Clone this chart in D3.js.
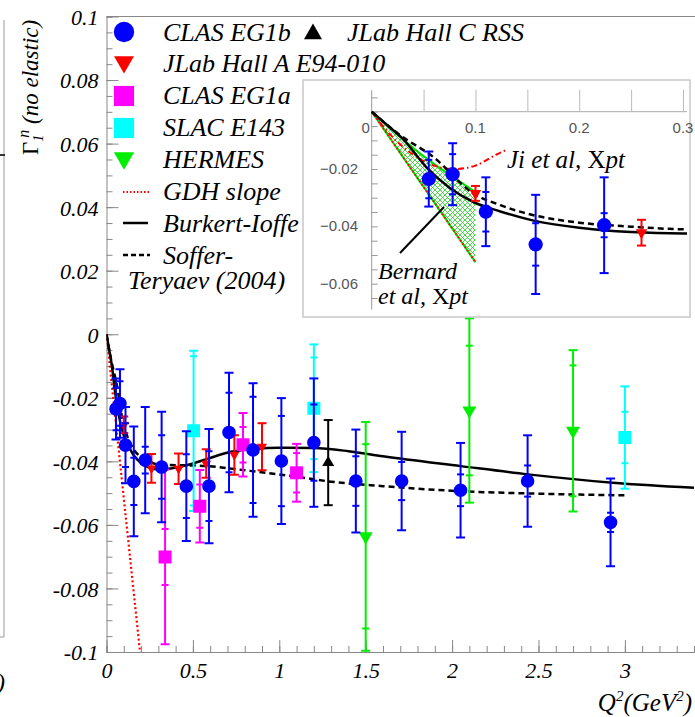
<!DOCTYPE html>
<html lang="en">
<head>
<meta charset="UTF-8">
<title>Gamma_1^n (no elastic) vs Q^2</title>
<script src="https://d3js.org/d3.v7.min.js"></script>
<style>
body { margin: 0; background: #fff; }
svg { display: block; background: #fff; }
text { font-family: "Liberation Serif", "Times New Roman", "DejaVu Serif", serif; }
.it { font-style: italic; }
.inset-lbl { font-family: "Liberation Sans", Arial, sans-serif; fill: #555; font-size: 15px; }
</style>
</head>
<body>
<svg width="695" height="717"></svg>
<script>
const svg = d3.select("svg");

// ---- data ----
// CLAS EG1b: Q2, Gamma1, total error, stat error
const eg1bQ2   = [0.055, 0.078, 0.110, 0.158, 0.224, 0.319, 0.462, 0.593, 0.709, 0.848, 1.012, 1.20, 1.443, 1.708, 2.049, 2.437, 2.917];
const eg1bG1   = [-0.0235, -0.0218, -0.0349, -0.0463, -0.0396, -0.0418, -0.0478, -0.0478, -0.0309, -0.0364, -0.0399, -0.0341, -0.0462, -0.0462, -0.0491, -0.0462, -0.0592];
const eg1bTot  = [0.0096, 0.0108, 0.0120, 0.0173, 0.0167, 0.0174, 0.0173, 0.0180, 0.0188, 0.0210, 0.0198, 0.0202, 0.0162, 0.0155, 0.0149, 0.0144, 0.0138];
const eg1bStat = [0.0067, 0.0070, 0.0069, 0.0074, 0.0042, 0.0100, 0.0100, 0.0110, 0.0125, 0.0167, 0.0142, 0.0120, 0.0078, 0.0060, 0.0050, 0.0049, 0.0030];

// JLab Hall A E94-010
const hallAQ2  = [0.100, 0.260, 0.417, 0.577, 0.740, 0.900];
const hallAG1  = [-0.0285, -0.0422, -0.0423, -0.0407, -0.0380, -0.0354];
const hallAErr = [0.0026, 0.0045, 0.0048, 0.0045, 0.0062, 0.0074];

// JLab Hall C RSS
const rssQ2  = [1.283];
const rssG1  = [-0.0404];
const rssErr = [0.0134];

// CLAS EG1a
const eg1aQ2   = [0.339, 0.540, 0.790, 1.100];
const eg1aG1   = [-0.0701, -0.0541, -0.0348, -0.0436];
const eg1aTot  = [0.0275, 0.0114, 0.0100, 0.0091];
const eg1aStat = [0.0088, 0.0068, 0.0056, 0.0062];

// SLAC E143
const e143Q2   = [0.504, 1.20, 3.00];
const e143G1   = [-0.0304, -0.0233, -0.0325];
const e143Tot  = [0.0252, 0.0201, 0.0161];
const e143Stat = [0.0235, 0.0160, 0.0081];

// HERMES
const hermesQ2   = [1.50, 2.10, 2.70];
const hermesG1   = [-0.0636, -0.0240, -0.0304];
const hermesTot  = [0.0360, 0.0290, 0.0254];
const hermesStat = [0.0290, 0.0204, 0.0206];

// model curves
const biQ2 = [0, 0.015, 0.03, 0.053, 0.075, 0.098, 0.124, 0.156, 0.2, 0.25, 0.3, 0.35, 0.465, 0.58, 0.72, 0.83, 1.0, 1.2, 1.4, 1.6, 2.05, 2.44, 2.93, 3.4];
const biG1 = [0, -0.0047, -0.0095, -0.0195, -0.0265, -0.0315, -0.0348, -0.038, -0.0405, -0.042, -0.0425, -0.0424, -0.0412, -0.0393, -0.037, -0.0362, -0.0357, -0.0358, -0.0368, -0.0384, -0.0415, -0.0441, -0.0467, -0.0483];
const stQ2 = [0, 0.027, 0.059, 0.098, 0.124, 0.156, 0.2, 0.25, 0.3, 0.58, 0.83, 1.07, 1.3, 1.6, 2.05, 2.44, 3.0];
const stG1 = [0, -0.0081, -0.0157, -0.0285, -0.0326, -0.0361, -0.0387, -0.0401, -0.041, -0.0415, -0.043, -0.0446, -0.0464, -0.0478, -0.0494, -0.0501, -0.0507];
const gdhQ2 = [0, 0.194];
const gdhG1 = [0, -0.1];
// inset only
const jiQ2 = [0, 0.02, 0.04, 0.06, 0.08, 0.1, 0.12, 0.13];
const jiG1 = [0, -0.0088, -0.015, -0.0188, -0.020, -0.0188, -0.015, -0.0133];
const bernardQ2 = [0, 0.05, 0.1];
const bernardHi = [0, -0.0155, -0.028];
const bernardLo = [0, -0.0262, -0.0525];

// ticks
const xTicks = [0, 0.5, 1, 1.5, 2, 2.5, 3];
const xTickLabels = ["0", "0.5", "1", "1.5", "2", "2.5", "3"];
const yTicks = [0.1, 0.08, 0.06, 0.04, 0.02, 0, -0.02, -0.04, -0.06, -0.08, -0.1];
const yTickLabels = ["0.1", "0.08", "0.06", "0.04", "0.02", "0", "-0.02", "-0.04", "-0.06", "-0.08", "-0.1"];
const insetXTicks = [0, 0.1, 0.2, 0.3];
const insetXTickLabels = ["0", "0.1", "0.2", "0.3"];
const insetYTicks = [-0.02, -0.04, -0.06];
const insetYTickLabels = ["\u22120.02", "\u22120.04", "\u22120.06"];

const zip = (q, g, t, s) => q.map((d, i) => ({ q2: d, g1: g[i], tot: t ? t[i] : 0, stat: s ? s[i] : 0 }));
const eg1b = zip(eg1bQ2, eg1bG1, eg1bTot, eg1bStat);
const hallA = zip(hallAQ2, hallAG1, hallAErr);
const rss = zip(rssQ2, rssG1, rssErr);
const eg1a = zip(eg1aQ2, eg1aG1, eg1aTot, eg1aStat);
const e143 = zip(e143Q2, e143G1, e143Tot, e143Stat);
const hermes = zip(hermesQ2, hermesG1, hermesTot, hermesStat);

const BLUE = "#0000ff", RED = "#ff0000", MAG = "#ff00ff", CYAN = "#00ffff", GREEN = "#00ee00";
const SERIF = "'Liberation Serif', 'Times New Roman', 'DejaVu Serif', serif";

// ---- main scales ----
const x = d3.scaleLinear().domain([0, 3.4]).range([106.5, 694]);
const y = d3.scaleLinear().domain([-0.1, 0.1]).range([652, 16.5]);

// markers
const sym = (type, size) => d3.symbol().type(type).size(size)();
function drawMarker(g, cx, cy, kind, scale, color) {
  let p;
  if (kind === "circle") p = g.append("path").attr("d", sym(d3.symbolCircle, Math.PI * (6.8 * scale) ** 2));
  else if (kind === "square") p = g.append("path").attr("d", sym(d3.symbolSquare, (13 * scale) ** 2));
  else if (kind === "tri") p = g.append("path").attr("d", sym(d3.symbolTriangle, Math.sqrt(3) / 4 * (12 * scale) ** 2));
  else if (kind === "down") p = g.append("path").attr("d", sym(d3.symbolTriangle, Math.sqrt(3) / 4 * (10 * scale) ** 2));
  else if (kind === "bigdown") p = g.append("path").attr("d", sym(d3.symbolTriangle, Math.sqrt(3) / 4 * (14 * scale) ** 2));
  const rot = (kind === "down" || kind === "bigdown") ? " rotate(180)" : "";
  p.attr("transform", `translate(${cx},${cy})${rot}`).attr("fill", color);
}

function drawSet(g, xs, ys, pts, kind, color, scale) {
  pts.forEach(p => {
    const cx = xs(p.q2), cy = ys(p.g1);
    const gg = g.append("g").attr("stroke", color).attr("stroke-width", 2);
    gg.append("line").attr("x1", cx).attr("x2", cx)
      .attr("y1", ys(p.g1 + p.tot)).attr("y2", ys(p.g1 - p.tot));
    [p.tot, -p.tot].forEach(e => {
      gg.append("line").attr("x1", cx - 4.5).attr("x2", cx + 4.5)
        .attr("y1", ys(p.g1 + e)).attr("y2", ys(p.g1 + e));
    });
    if (p.stat) {
      [p.stat, -p.stat].forEach(e => {
        gg.append("line").attr("x1", cx - 3.5).attr("x2", cx + 3.5)
          .attr("y1", ys(p.g1 + e)).attr("y2", ys(p.g1 + e));
      });
    }
    drawMarker(g, cx, cy, kind, scale, color);
  });
}

const lineGen = (xs, ys) => d3.line().x(d => xs(d[0])).y(d => ys(d[1])).curve(d3.curveMonotoneX);
const pairs = (q, g) => q.map((d, i) => [d, g[i]]);

// ---- fragment of the neighbouring panel at the left edge ----
svg.append("line").attr("x1", 4).attr("x2", 4).attr("y1", 20).attr("y2", 637).attr("stroke", "#999");
svg.append("line").attr("x1", 0).attr("x2", 4).attr("y1", 637).attr("y2", 637).attr("stroke", "#999");
svg.append("line").attr("x1", 0).attr("x2", 5).attr("y1", 155).attr("y2", 155).attr("stroke", "#333").attr("stroke-width", 2);
svg.append("text").attr("class", "it").attr("x", -3).attr("y", 690).attr("font-size", 24).text(")");

// ---- main frame and axes ----
svg.append("line").attr("x1", 106.5).attr("x2", 695).attr("y1", 16.5).attr("y2", 16.5).attr("stroke", "#888");

const yAxisMinor = d3.axisLeft(y).tickValues(d3.range(-0.1, 0.1001, 0.005)).tickSize(-6).tickFormat("");
svg.append("g").attr("transform", "translate(106.5,0)").call(yAxisMinor)
  .call(g => g.selectAll("line").attr("stroke", "#888")).call(g => g.select(".domain").attr("stroke", "#888"));
const yAxis = d3.axisLeft(y).tickValues(yTicks).tickSizeInner(-12).tickSizeOuter(0).tickPadding(8)
  .tickFormat((d, i) => yTickLabels[i]);
svg.append("g").attr("transform", "translate(106.5,0)").call(yAxis)
  .call(g => g.select(".domain").remove())
  .call(g => g.selectAll("line").attr("stroke", "#888"))
  .call(g => g.selectAll("text").attr("class", "it").attr("font-size", 22)
    .attr("font-family", SERIF).attr("fill", "#000").attr("dy", "0.36em"));

const xAxisMinor = d3.axisBottom(x).tickValues(d3.range(0, 3.41, 0.1)).tickSize(-6).tickFormat("");
svg.append("g").attr("transform", "translate(0,652)").call(xAxisMinor)
  .call(g => g.selectAll("line").attr("stroke", "#888")).call(g => g.select(".domain").attr("stroke", "#888"));
const xAxis = d3.axisBottom(x).tickValues(xTicks).tickSizeInner(-12).tickSizeOuter(0).tickPadding(10)
  .tickFormat((d, i) => xTickLabels[i]);
svg.append("g").attr("transform", "translate(0,652)").call(xAxis)
  .call(g => g.select(".domain").remove())
  .call(g => g.selectAll("line").attr("stroke", "#888"))
  .call(g => g.selectAll("text").attr("class", "it").attr("font-size", 22)
    .attr("font-family", SERIF).attr("fill", "#000"));

// axis titles
const xt = svg.append("text").attr("class", "it").attr("x", 692).attr("y", 711)
  .attr("text-anchor", "end").attr("font-size", 25);
xt.append("tspan").text("Q");
xt.append("tspan").attr("dy", -10).attr("font-size", 15).text("2");
xt.append("tspan").attr("dy", 10).text("(GeV");
xt.append("tspan").attr("dy", -10).attr("font-size", 15).text("2");
xt.append("tspan").attr("dy", 10).text(")");

const yt = svg.append("text").attr("transform", "translate(38,155) rotate(-90)").attr("font-size", 23);
yt.append("tspan").text("\u0393");
yt.append("tspan").attr("class", "it").attr("dy", 5).attr("font-size", 14).text("1");
yt.append("tspan").attr("class", "it").attr("dy", -14).attr("dx", -3).attr("font-size", 16).text("n");
yt.append("tspan").attr("class", "it").attr("dy", 9).text(" (no elastic)");

// ---- main plot content ----
svg.append("clipPath").attr("id", "mainClip").append("rect")
  .attr("x", 106.5).attr("y", 16.5).attr("width", 590).attr("height", 637);
const plot = svg.append("g").attr("clip-path", "url(#mainClip)");

plot.append("path").datum(pairs(gdhQ2, gdhG1)).attr("d", lineGen(x, y)).attr("fill", "none")
  .attr("stroke", RED).attr("stroke-width", 2.2).attr("stroke-dasharray", "2,2.5");
plot.append("path").datum(pairs(stQ2, stG1)).attr("d", lineGen(x, y)).attr("fill", "none")
  .attr("stroke", "#000").attr("stroke-width", 2.5).attr("stroke-dasharray", "6,4");
plot.append("path").datum(pairs(biQ2, biG1)).attr("d", lineGen(x, y)).attr("fill", "none")
  .attr("stroke", "#000").attr("stroke-width", 2.5);

drawSet(plot, x, y, hermes, "bigdown", GREEN, 1);
drawSet(plot, x, y, e143, "square", CYAN, 1);
drawSet(plot, x, y, eg1a, "square", MAG, 1);
drawSet(plot, x, y, hallA, "down", RED, 1);
drawSet(plot, x, y, rss, "tri", "#000", 1);
drawSet(plot, x, y, eg1b, "circle", BLUE, 1);

// ---- legend ----
const leg = svg.append("g").attr("font-size", 26).attr("class", "it");
drawMarker(leg, 124, 32, "circle", 1.5, BLUE);
leg.append("text").attr("x", 163).attr("y", 41).text("CLAS EG1b");
drawMarker(leg, 313, 34, "tri", 1.5, "#000");
leg.append("text").attr("x", 347).attr("y", 41).text("JLab Hall C RSS");
drawMarker(leg, 124, 62, "down", 2, RED);
leg.append("text").attr("x", 163).attr("y", 72).text("JLab Hall A E94-010");
drawMarker(leg, 124, 96, "square", 1.55, MAG);
leg.append("text").attr("x", 163).attr("y", 104).text("CLAS EG1a");
drawMarker(leg, 124, 128, "square", 1.55, CYAN);
leg.append("text").attr("x", 163).attr("y", 136).text("SLAC E143");
drawMarker(leg, 124, 158, "bigdown", 1.45, GREEN);
leg.append("text").attr("x", 163).attr("y", 168).text("HERMES");
leg.append("line").attr("x1", 123).attr("x2", 150).attr("y1", 192).attr("y2", 192)
  .attr("stroke", RED).attr("stroke-width", 2).attr("stroke-dasharray", "1.5,2");
leg.append("text").attr("x", 163).attr("y", 200).text("GDH slope");
leg.append("line").attr("x1", 123).attr("x2", 148).attr("y1", 223).attr("y2", 223)
  .attr("stroke", "#000").attr("stroke-width", 2.5);
leg.append("text").attr("x", 163).attr("y", 232).text("Burkert-Ioffe");
leg.append("line").attr("x1", 123).attr("x2", 150).attr("y1", 255).attr("y2", 255)
  .attr("stroke", "#000").attr("stroke-width", 2.5).attr("stroke-dasharray", "5,3");
leg.append("text").attr("x", 163).attr("y", 264).text("Soffer-");
leg.append("text").attr("x", 128).attr("y", 289).text("Teryaev (2004)");

// ---- inset ----
const xi = d3.scaleLinear().domain([0, 0.3]).range([371.7, 683]);
const yi = d3.scaleLinear().domain([-0.06, 0]).range([283.7, 111.7]);

const inset = svg.append("g");
inset.append("rect").attr("x", 303).attr("y", 80).attr("width", 387).attr("height", 237)
  .attr("fill", "#fff").attr("stroke", "#c8c8c8").attr("stroke-width", 1.5);

// inset axes: upward grid ticks on the x axis, inward ticks on the y axis
const ixAxis = d3.axisTop(xi).tickValues(d3.range(0.05, 0.301, 0.05)).tickSize(22).tickFormat("");
inset.append("g").attr("transform", `translate(0,${yi(0)})`).call(ixAxis)
  .call(g => g.selectAll("line").attr("stroke", "#bbb"))
  .call(g => g.select(".domain").attr("d", `M${xi(0)},0H687`).attr("stroke", "#aaa"));
const iyAxis = d3.axisLeft(yi).tickValues(d3.range(-0.065, 0.0051, 0.005)).tickSize(-6).tickFormat("");
inset.append("g").attr("transform", `translate(${xi(0)},0)`).call(iyAxis)
  .call(g => g.selectAll("line").attr("stroke", "#999"))
  .call(g => g.select(".domain").attr("d", `M0,${yi(0.0075)}V${yi(-0.069)}`).attr("stroke", "#999"));

inset.selectAll(".ixl").data(insetXTicks).enter().append("text").attr("class", "inset-lbl")
  .attr("x", (d, i) => xi(d) - (i === 0 ? 6 : 0)).attr("y", 133).attr("text-anchor", "middle")
  .text((d, i) => insetXTickLabels[i]);
inset.selectAll(".iyl").data(insetYTicks).enter().append("text").attr("class", "inset-lbl")
  .attr("x", 358).attr("y", d => yi(d) + 5).attr("text-anchor", "end")
  .text((d, i) => insetYTickLabels[i]);

svg.append("clipPath").attr("id", "insetClip").append("rect")
  .attr("x", 305).attr("y", 82).attr("width", 382).attr("height", 233);
const ip = inset.append("g").attr("clip-path", "url(#insetClip)");

// Bernard et al band (cross hatched)
const pat = svg.append("defs").append("pattern").attr("id", "hatch")
  .attr("patternUnits", "userSpaceOnUse").attr("width", 5).attr("height", 5);
pat.append("path").attr("d", "M0,0L5,5M5,0L0,5M-1,4L1,6M4,-1L6,1").attr("stroke", "#22cc22").attr("stroke-width", 0.8);
const bandPts = bernardQ2.map((d, i) => ({ q: d, hi: bernardHi[i], lo: bernardLo[i] }));
ip.append("path").datum(bandPts)
  .attr("d", d3.area().x(d => xi(d.q)).y0(d => yi(d.lo)).y1(d => yi(d.hi)))
  .attr("fill", "url(#hatch)");
ip.append("path").datum(pairs(bernardQ2, bernardHi)).attr("d", lineGen(xi, yi))
  .attr("fill", "none").attr("stroke", "#00dd00").attr("stroke-width", 2);
ip.append("path").datum(pairs(bernardQ2, bernardLo)).attr("d", lineGen(xi, yi))
  .attr("fill", "none").attr("stroke", "#00dd00").attr("stroke-width", 2);
ip.append("path").datum(pairs(bernardQ2, bernardLo)).attr("d", lineGen(xi, yi))
  .attr("fill", "none").attr("stroke", RED).attr("stroke-width", 2).attr("stroke-dasharray", "1.5,2.5");

// Ji et al
ip.append("path").datum(pairs(jiQ2, jiG1)).attr("d", lineGen(xi, yi)).attr("fill", "none")
  .attr("stroke", RED).attr("stroke-width", 2).attr("stroke-dasharray", "6,3,1.5,3");

ip.append("path").datum(pairs(stQ2, stG1).filter(d => d[0] <= 0.58)).attr("d", lineGen(xi, yi)).attr("fill", "none")
  .attr("stroke", "#000").attr("stroke-width", 2.5).attr("stroke-dasharray", "6,4");
ip.append("path").datum(pairs(biQ2, biG1).filter(d => d[0] <= 0.465)).attr("d", lineGen(xi, yi)).attr("fill", "none")
  .attr("stroke", "#000").attr("stroke-width", 2.5);

drawSet(ip, xi, yi, hallA.filter(d => d.q2 <= 0.3), "down", RED, 1.15);
drawSet(ip, xi, yi, eg1b.filter(d => d.q2 <= 0.3), "circle", BLUE, 1.05);

// inset annotations
const ji = inset.append("text").attr("x", 507).attr("y", 168).attr("font-size", 25);
ji.append("tspan").attr("class", "it").text("Ji et al, ");
ji.append("tspan").text("X");
ji.append("tspan").attr("class", "it").text("pt");
inset.append("line").attr("x1", 400).attr("y1", 253).attr("x2", 444).attr("y2", 207)
  .attr("stroke", "#000").attr("stroke-width", 2);
inset.append("text").attr("class", "it").attr("x", 378).attr("y", 279).attr("font-size", 24).text("Bernard");
const bt = inset.append("text").attr("x", 378).attr("y", 304).attr("font-size", 24);
bt.append("tspan").attr("class", "it").text("et al, ");
bt.append("tspan").text("X");
bt.append("tspan").attr("class", "it").text("pt");
</script>
</body>
</html>
